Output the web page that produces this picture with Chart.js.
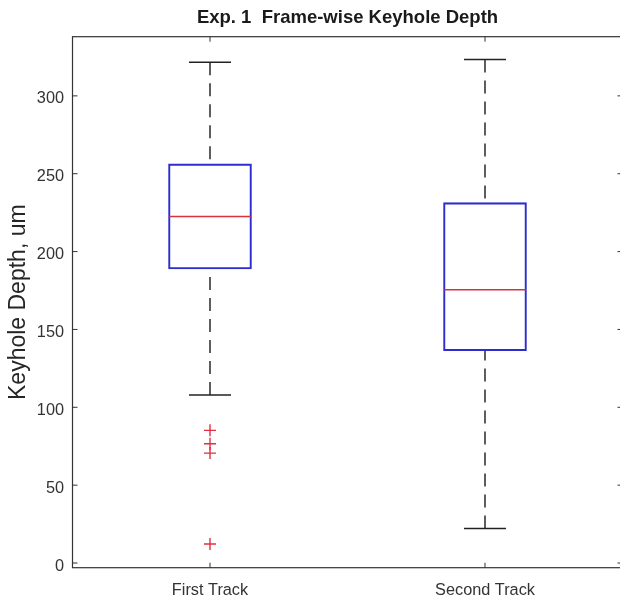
<!DOCTYPE html>
<html>
<head>
<meta charset="utf-8">
<title>Exp. 1 Frame-wise Keyhole Depth</title>
<script src="https://cdn.jsdelivr.net/npm/chart.js@4/dist/chart.umd.min.js"></script>
<style>
  html, body { margin: 0; padding: 0; background: #fff; overflow: hidden; }
  canvas { display: block; }
</style>
</head>
<body>
<canvas id="chart" width="620" height="605"></canvas>
<script>
// Box-plot summary per track (keyhole depth, um)
const categories = ['First Track', 'Second Track'];
const lowerWhisker = [107.9, 22.2];
const q1 = [188.8, 136.4];
const medians = [222.6, 175.5];
const q3 = [256.3, 231.4];
const upperWhisker = [321.6, 323.3];
const outliers = [[85.2, 76.6, 70.6, 12.2], []];
const yTicks = [0, 50, 100, 150, 200, 250, 300];
const yMin = -3;
const yMax = 338;

const FONT = "'Liberation Sans', Arial, Helvetica, sans-serif";
const AXIS_COLOR = '#333333';
const BOX_COLOR = '#2d2dcf';
const MEDIAN_COLOR = '#d8323c';
const WHISKER_COLOR = '#4d4d4d';
const CAP_HALF = 21;
const TICK_LEN = 5;
const RIGHT_OVERHANG = 2.5;   // the axes box ends just past the canvas edge

const outlierPoints = [];
outliers.forEach((vals, i) => vals.forEach(v => outlierPoints.push({ x: categories[i], y: v })));

// Stretch the x axis so its right end lies slightly beyond the canvas,
// and keep the title centred over the full axes box
const overhang = {
  id: 'overhang',
  afterLayout(chart) {
    const xs = chart.scales.x;
    xs.right = chart.width + RIGHT_OVERHANG;
    xs.width = xs.right - xs.left;
    xs.configure();
    const t = chart.titleBlock;
    if (t) {
      t.left = xs.left;
      t.right = xs.right;
      t.width = xs.width;
    }
  }
};

// Whiskers, caps, medians, axis frame and inward ticks
const boxParts = {
  id: 'boxParts',
  beforeDatasetsDraw(chart) {
    const { ctx } = chart;
    const xs = chart.scales.x, ys = chart.scales.y;
    ctx.save();
    categories.forEach((c, i) => {
      const cx = xs.getPixelForValue(i);
      // dashed whiskers drawn from the cap towards the box
      ctx.strokeStyle = WHISKER_COLOR;
      ctx.lineWidth = 1.8;
      ctx.setLineDash([13, 8]);
      ctx.beginPath();
      ctx.moveTo(cx, ys.getPixelForValue(upperWhisker[i]));
      ctx.lineTo(cx, ys.getPixelForValue(q3[i]));
      ctx.stroke();
      ctx.beginPath();
      ctx.moveTo(cx, ys.getPixelForValue(lowerWhisker[i]));
      ctx.lineTo(cx, ys.getPixelForValue(q1[i]));
      ctx.stroke();
      // solid caps
      ctx.setLineDash([]);
      ctx.strokeStyle = '#222222';
      ctx.lineWidth = 1.5;
      [upperWhisker[i], lowerWhisker[i]].forEach(v => {
        const py = ys.getPixelForValue(v);
        ctx.beginPath();
        ctx.moveTo(cx - CAP_HALF, py);
        ctx.lineTo(cx + CAP_HALF, py);
        ctx.stroke();
      });
    });
    ctx.restore();
  },
  afterDatasetsDraw(chart) {
    const { ctx } = chart;
    const ys = chart.scales.y;
    const meta = chart.getDatasetMeta(0);
    ctx.save();
    ctx.strokeStyle = MEDIAN_COLOR;
    ctx.lineWidth = 1.5;
    meta.data.forEach((bar, i) => {
      const py = ys.getPixelForValue(medians[i]);
      const half = bar.width / 2 - 0.75;
      ctx.beginPath();
      ctx.moveTo(bar.x - half, py);
      ctx.lineTo(bar.x + half, py);
      ctx.stroke();
    });
    ctx.restore();
  },
  afterDraw(chart) {
    const { ctx } = chart;
    const xs = chart.scales.x, ys = chart.scales.y;
    const left = xs.left, right = xs.right, top = ys.top, bottom = ys.bottom;
    ctx.save();
    ctx.strokeStyle = AXIS_COLOR;
    ctx.lineWidth = 1.2;
    ctx.strokeRect(left, top, right - left, bottom - top);
    ctx.lineWidth = 1;
    ctx.beginPath();
    ys.ticks.forEach(t => {
      const py = ys.getPixelForValue(t.value);
      ctx.moveTo(left, py); ctx.lineTo(left + TICK_LEN, py);
      ctx.moveTo(right, py); ctx.lineTo(right - TICK_LEN, py);
    });
    xs.ticks.forEach((t, i) => {
      const px = xs.getPixelForValue(i);
      ctx.moveTo(px, bottom); ctx.lineTo(px, bottom - TICK_LEN);
      ctx.moveTo(px, top); ctx.lineTo(px, top + TICK_LEN);
    });
    ctx.stroke();
    ctx.restore();
  }
};

new Chart(document.getElementById('chart'), {
  type: 'bar',
  data: {
    labels: categories,
    datasets: [
      {
        label: 'IQR',
        data: categories.map((c, i) => [q1[i], q3[i]]),
        backgroundColor: 'rgba(0,0,0,0)',
        borderColor: BOX_COLOR,
        borderWidth: 1.4,
        borderSkipped: false,
        barThickness: 83
      },
      {
        type: 'line',
        label: 'Outliers',
        data: outlierPoints,
        showLine: false,
        clip: false,
        pointStyle: 'cross',
        pointRadius: 6,
        pointBorderWidth: 1.4,
        pointBorderColor: '#e0303f',
        pointBackgroundColor: '#e0303f'
      }
    ]
  },
  options: {
    responsive: false,
    animation: false,
    devicePixelRatio: 1,
    layout: { padding: 0 },
    plugins: {
      legend: { display: false },
      tooltip: { enabled: false },
      title: {
        display: true,
        fullSize: false,
        text: 'Exp. 1  Frame-wise Keyhole Depth',
        color: '#1a1a1a',
        font: { family: FONT, size: 18.5, weight: 'bold', lineHeight: 1.2 },
        padding: { top: 6.8, bottom: 7.7 }
      }
    },
    scales: {
      x: {
        type: 'category',
        offset: true,
        grid: { display: false, drawTicks: false },
        border: { display: false },
        ticks: {
          color: '#333333',
          padding: 13.3,
          font: { family: FONT, size: 16.3 }
        },
        afterFit(scale) { scale.height = 37.3; }
      },
      y: {
        type: 'linear',
        min: yMin,
        max: yMax,
        grid: { display: false, drawTicks: false },
        border: { display: false },
        afterBuildTicks(scale) { scale.ticks = yTicks.map(v => ({ value: v })); },
        ticks: {
          color: '#333333',
          padding: 8.5,
          labelOffset: 3,
          font: { family: FONT, size: 16.3 }
        },
        title: {
          display: true,
          text: 'Keyhole Depth, um',
          color: '#262626',
          font: { family: FONT, size: 23 },
          padding: { top: 5, bottom: 0 }
        },
        afterFit(scale) { scale.width = 72.5; }
      }
    }
  },
  plugins: [overhang, boxParts]
});
</script>
</body>
</html>
